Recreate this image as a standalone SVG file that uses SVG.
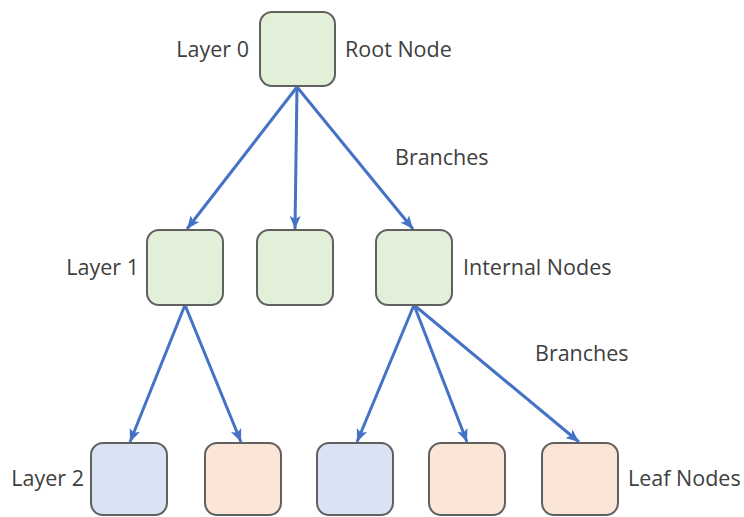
<svg xmlns="http://www.w3.org/2000/svg" width="744" height="517" viewBox="0 0 744 517">
  <style>
    .node { stroke: #606060; stroke-width: 2; }
    .inner { fill: #e2f0d9; }
    .leafA { fill: #dae3f3; }
    .leafB { fill: #fbe5d6; }
    .lbl { font-family: "Open Sans", "Noto Sans", sans-serif; font-size: 21.5px; fill: #404040; }
    .edge { stroke: #4472c4; stroke-width: 3; fill: none; marker-end: url(#arrow); }
  </style>
  <defs>
    <marker id="arrow" markerUnits="userSpaceOnUse" markerWidth="14" markerHeight="14" viewBox="0 0 14 14" refX="13" refY="7" orient="auto">
      <path d="M0,1.5 L13,7 L0,12.5 L3,7 Z" fill="#4472c4"/>
    </marker>
  </defs>

  <rect width="744" height="517" fill="#ffffff"/>

  <!-- connectors -->
  <g id="edges">
    <line class="edge" x1="297" y1="87" x2="187" y2="229"/>
    <line class="edge" x1="297" y1="87" x2="295" y2="229"/>
    <line class="edge" x1="297" y1="87" x2="413" y2="229"/>
    <line class="edge" x1="185" y1="305" x2="130" y2="442"/>
    <line class="edge" x1="185" y1="305" x2="241" y2="442"/>
    <line class="edge" x1="414" y1="305" x2="357" y2="442"/>
    <line class="edge" x1="414" y1="305" x2="467" y2="442"/>
    <line class="edge" x1="414" y1="305" x2="579" y2="442"/>
  </g>

  <!-- layer 0 -->
  <g id="root">
    <rect class="node inner" x="260" y="12" width="75" height="74" rx="12"/>
  </g>

  <!-- layer 1 -->
  <g id="n1a">
    <rect class="node inner" x="147" y="230" width="76" height="75" rx="12"/>
  </g>
  <g id="n1b">
    <rect class="node inner" x="257" y="230" width="76" height="75" rx="12"/>
  </g>
  <g id="n1c">
    <rect class="node inner" x="376" y="230" width="76" height="75" rx="12"/>
  </g>

  <!-- layer 2 -->
  <g id="leaf1">
    <rect class="node leafA" x="91" y="443" width="76" height="72" rx="12"/>
  </g>
  <g id="leaf2">
    <rect class="node leafB" x="205" y="443" width="76" height="72" rx="12"/>
  </g>
  <g id="leaf3">
    <rect class="node leafA" x="317" y="443" width="76" height="72" rx="12"/>
  </g>
  <g id="leaf4">
    <rect class="node leafB" x="429" y="443" width="76" height="72" rx="12"/>
  </g>
  <g id="leaf5">
    <rect class="node leafB" x="542" y="443" width="76" height="72" rx="12"/>
  </g>

  <!-- labels -->
  <g id="labels">
    <text class="lbl" x="249" y="57" text-anchor="end">Layer 0</text>
    <text class="lbl" x="345" y="57">Root Node</text>
    <text class="lbl" x="395" y="165">Branches</text>
    <text class="lbl" x="139" y="275" text-anchor="end">Layer 1</text>
    <text class="lbl" x="463" y="275">Internal Nodes</text>
    <text class="lbl" x="535" y="361">Branches</text>
    <text class="lbl" x="84" y="486" text-anchor="end">Layer 2</text>
    <text class="lbl" x="628" y="486">Leaf Nodes</text>
  </g>
</svg>
